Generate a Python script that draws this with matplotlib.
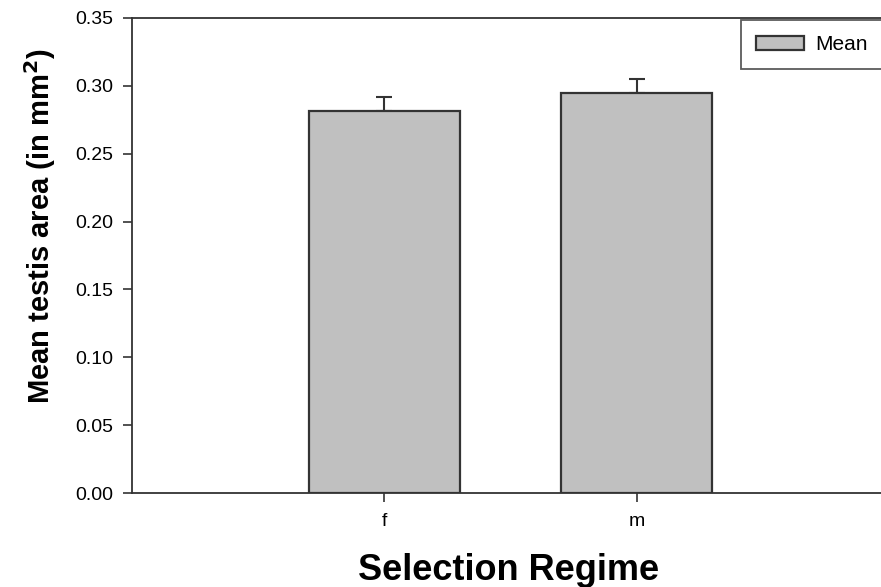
import matplotlib.pyplot as plt

# Mean testis area per selection regime
regimes = ['f', 'm']
means = [0.2815, 0.2950]
errors = [0.0103, 0.0103]

plt.rcParams['font.family'] = ['Liberation Sans', 'DejaVu Sans']

fig = plt.figure(figsize=(8.81, 5.87), dpi=100)
W, H = 881, 587
# axes run past the right edge of the figure, as in the original export
ax = fig.add_axes([132 / W, (H - 493) / H, (889 - 132) / W, 475 / H])

pos = [1, 2]
ax.bar(pos, means, width=0.6, color='#c0c0c0', edgecolor='#333333', linewidth=1.6,
       label='Mean', zorder=2)
ax.errorbar(pos, means, yerr=[[0, 0], errors], fmt='none', ecolor='#333333',
            elinewidth=1.5, capsize=6, capthick=1.5, zorder=1)

ax.set_xlim(0, 3)
ax.set_ylim(0, 0.35)
ax.set_xticks(pos)
ax.set_xticklabels(regimes)
ax.set_yticks([0, 0.05, 0.10, 0.15, 0.20, 0.25, 0.30, 0.35])
ax.set_yticklabels([f'{v:.2f}' for v in ax.get_yticks()])
ax.tick_params(axis='both', direction='out', length=6.5, width=1.2, labelsize=14, color='#333333')
ax.tick_params(axis='y', pad=7)
ax.tick_params(axis='x', pad=8)
for s in ax.spines.values():
    s.set_linewidth(1.3)
    s.set_color('#333333')

ax.set_ylabel('Mean testis area (in mm$^\\mathbf{2}$)', fontsize=21, fontweight='bold')
ax.yaxis.set_label_coords(-0.098, 0.562)
ax.set_xlabel('Selection Regime', fontsize=26, fontweight='bold')
ax.xaxis.set_label_coords(0.498, -0.126)

leg = ax.legend(loc='upper left', bbox_to_anchor=(741 / W, 1 - 20 / H),
                bbox_transform=fig.transFigure, fontsize=15, fancybox=False,
                edgecolor='#333333', handlelength=2.3, handleheight=0.67,
                handletextpad=0.55, borderpad=0.72, borderaxespad=0)
leg.get_frame().set_linewidth(1.3)

fig.savefig('out.png', dpi=100)
